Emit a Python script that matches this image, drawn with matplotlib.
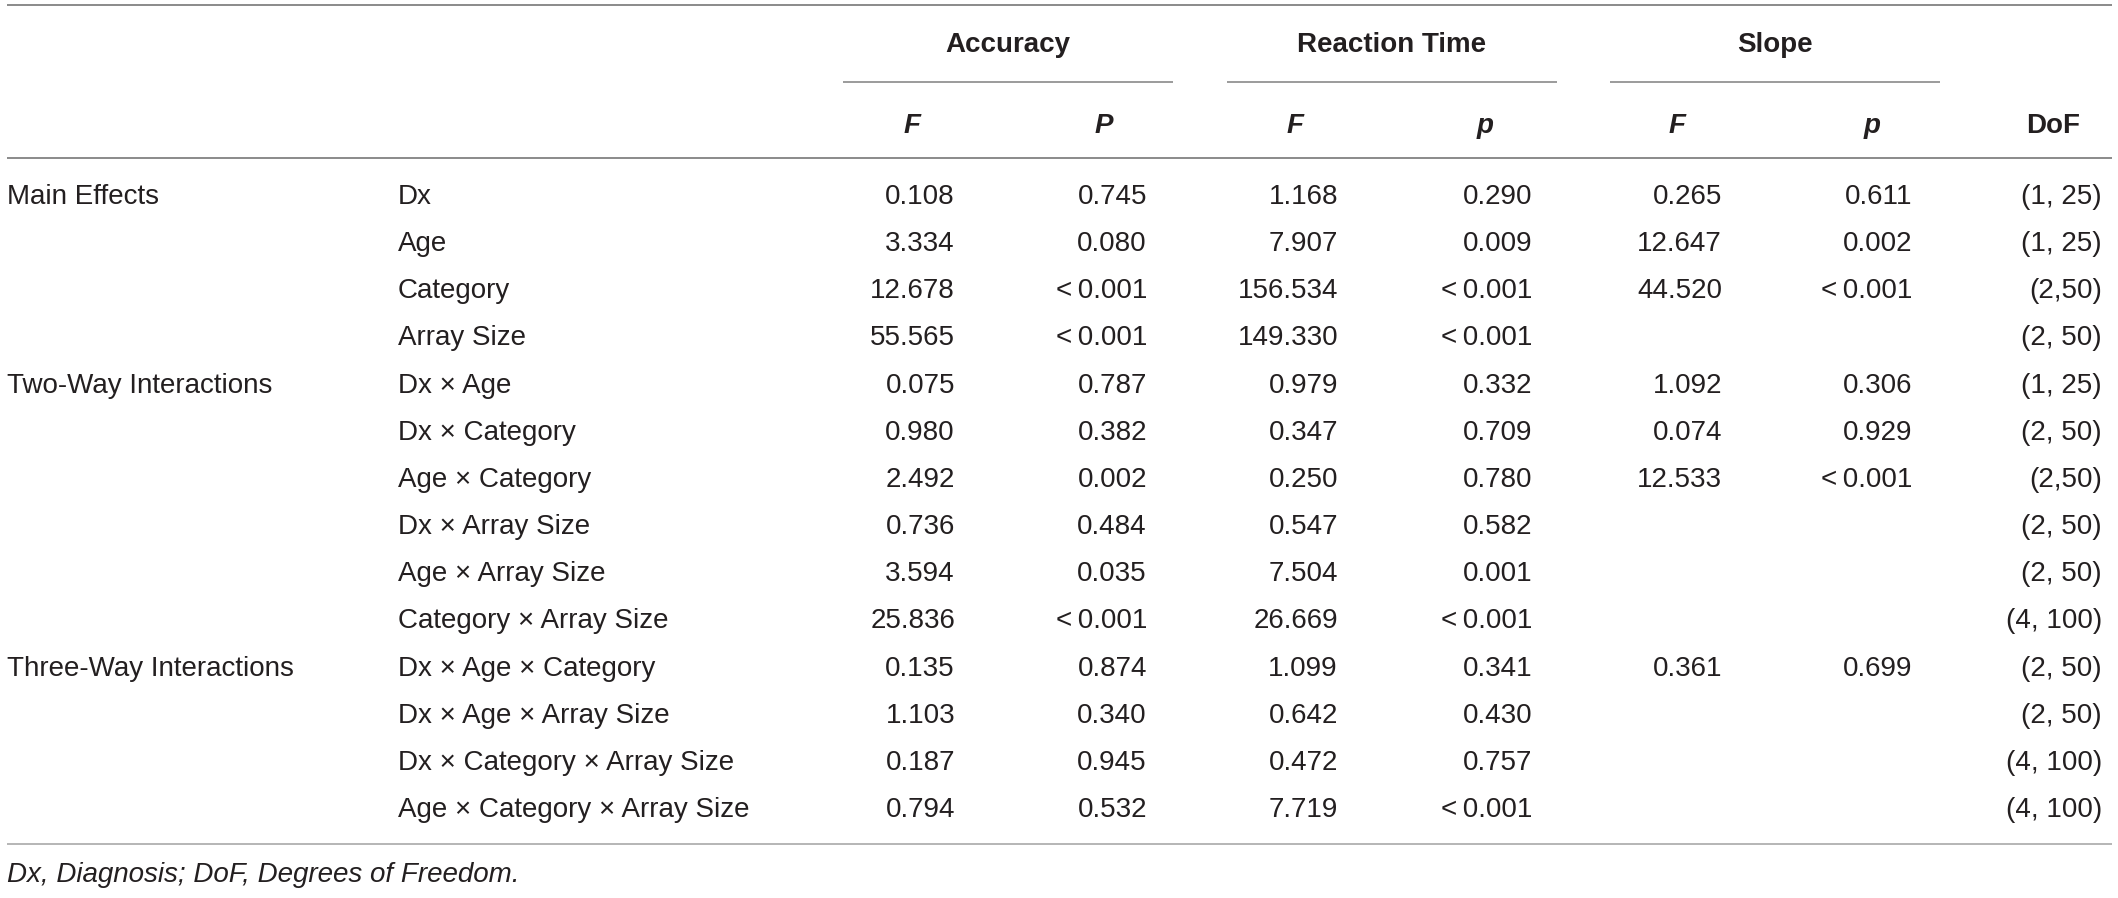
"""ANOVA summary table: accuracy, reaction time and slope effects."""

import matplotlib

matplotlib.use("Agg", force=True)
import matplotlib.pyplot as plt

plt.rcParams["font.family"] = ["Liberation Sans", "DejaVu Sans"]

# ---- table content -------------------------------------------------------
groups = ["Accuracy", "Reaction Time", "Slope"]
sub_headers = ["F", "P", "F", "p", "F", "p", "DoF"]

sections = ["Main Effects", "", "", "",
            "Two-Way Interactions", "", "", "", "", "",
            "Three-Way Interactions", "", "", ""]
effects = ["Dx", "Age", "Category", "Array Size",
           "Dx × Age", "Dx × Category", "Age × Category", "Dx × Array Size",
           "Age × Array Size", "Category × Array Size",
           "Dx × Age × Category", "Dx × Age × Array Size",
           "Dx × Category × Array Size", "Age × Category × Array Size"]

LT = "<\u20090.001"
acc_F = ["0.108", "3.334", "12.678", "55.565", "0.075", "0.980", "2.492",
         "0.736", "3.594", "25.836", "0.135", "1.103", "0.187", "0.794"]
acc_P = ["0.745", "0.080", LT, LT, "0.787", "0.382", "0.002",
         "0.484", "0.035", LT, "0.874", "0.340", "0.945", "0.532"]
rt_F = ["1.168", "7.907", "156.534", "149.330", "0.979", "0.347", "0.250",
        "0.547", "7.504", "26.669", "1.099", "0.642", "0.472", "7.719"]
rt_p = ["0.290", "0.009", LT, LT, "0.332", "0.709", "0.780",
        "0.582", "0.001", LT, "0.341", "0.430", "0.757", LT]
slope_F = ["0.265", "12.647", "44.520", "", "1.092", "0.074", "12.533",
           "", "", "", "0.361", "", "", ""]
slope_p = ["0.611", "0.002", LT, "", "0.306", "0.929", LT,
           "", "", "", "0.699", "", "", ""]
dof = ["(1, 25)", "(1, 25)", "(2,50)", "(2, 50)", "(1, 25)", "(2, 50)", "(2,50)",
       "(2, 50)", "(2, 50)", "(4, 100)", "(2, 50)", "(2, 50)", "(4, 100)", "(4, 100)"]

footnote = "Dx, Diagnosis; DoF, Degrees of Freedom."

# ---- layout (pixel units of a 2118 x 898 canvas) --------------------------
W, H = 2118, 898
text_color = "#231f20"
rule_color = "#8a8a8a"
fs = 20

x_section = 7
x_effect = 398
col_right = [955, 1147, 1338, 1532, 1722, 1912, 2102]
sub_centers = [912, 1104, 1295, 1485, 1677, 1872, 2053]
group_spans = [(843, 1173), (1227, 1557), (1610, 1940)]

y_top_rule = 5
y_group_base = 52
y_span_rule = 82
y_sub_base = 133
y_head_rule = 158
y_first_base = 204
row_pitch = 47.15
y_bottom_rule = 844
y_foot_base = 882

fig = plt.figure(figsize=(W / 100, H / 100), dpi=100)
ax = fig.add_axes([0, 0, 1, 1])
ax.set_xlim(0, W)
ax.set_ylim(H, 0)
ax.axis("off")

# rules
ax.hlines([y_top_rule, y_head_rule], 7, 2112, color=rule_color, linewidth=1.4)
ax.hlines(y_bottom_rule, 7, 2112, color="#b5b5b5", linewidth=1.4)
for x0, x1 in group_spans:
    ax.hlines(y_span_rule, x0, x1, color=rule_color, linewidth=1.2)

# group headers
for name, (x0, x1) in zip(groups, group_spans):
    ax.text((x0 + x1) / 2, y_group_base, name, ha="center", va="baseline",
            fontsize=fs, fontweight="bold", color=text_color)

# sub headers
for label, xc in zip(sub_headers, sub_centers):
    style = "normal" if label == "DoF" else "italic"
    ax.text(xc, y_sub_base, label, ha="center", va="baseline", fontsize=fs,
            fontweight="bold", fontstyle=style, color=text_color)

# body
columns = [acc_F, acc_P, rt_F, rt_p, slope_F, slope_p, dof]
for i, (sec, eff) in enumerate(zip(sections, effects)):
    yb = y_first_base + i * row_pitch
    if sec:
        ax.text(x_section, yb, sec, ha="left", va="baseline", fontsize=fs,
                color=text_color)
    ax.text(x_effect, yb, eff, ha="left", va="baseline", fontsize=fs,
            color=text_color)
    for col, xr in zip(columns, col_right):
        if col[i]:
            ax.text(xr, yb, col[i], ha="right", va="baseline", fontsize=fs,
                    color=text_color)

ax.text(x_section, y_foot_base, footnote, ha="left", va="baseline", fontsize=fs,
        fontstyle="italic", color=text_color)

fig.savefig("out.png", dpi=100)
plt.close(fig)
